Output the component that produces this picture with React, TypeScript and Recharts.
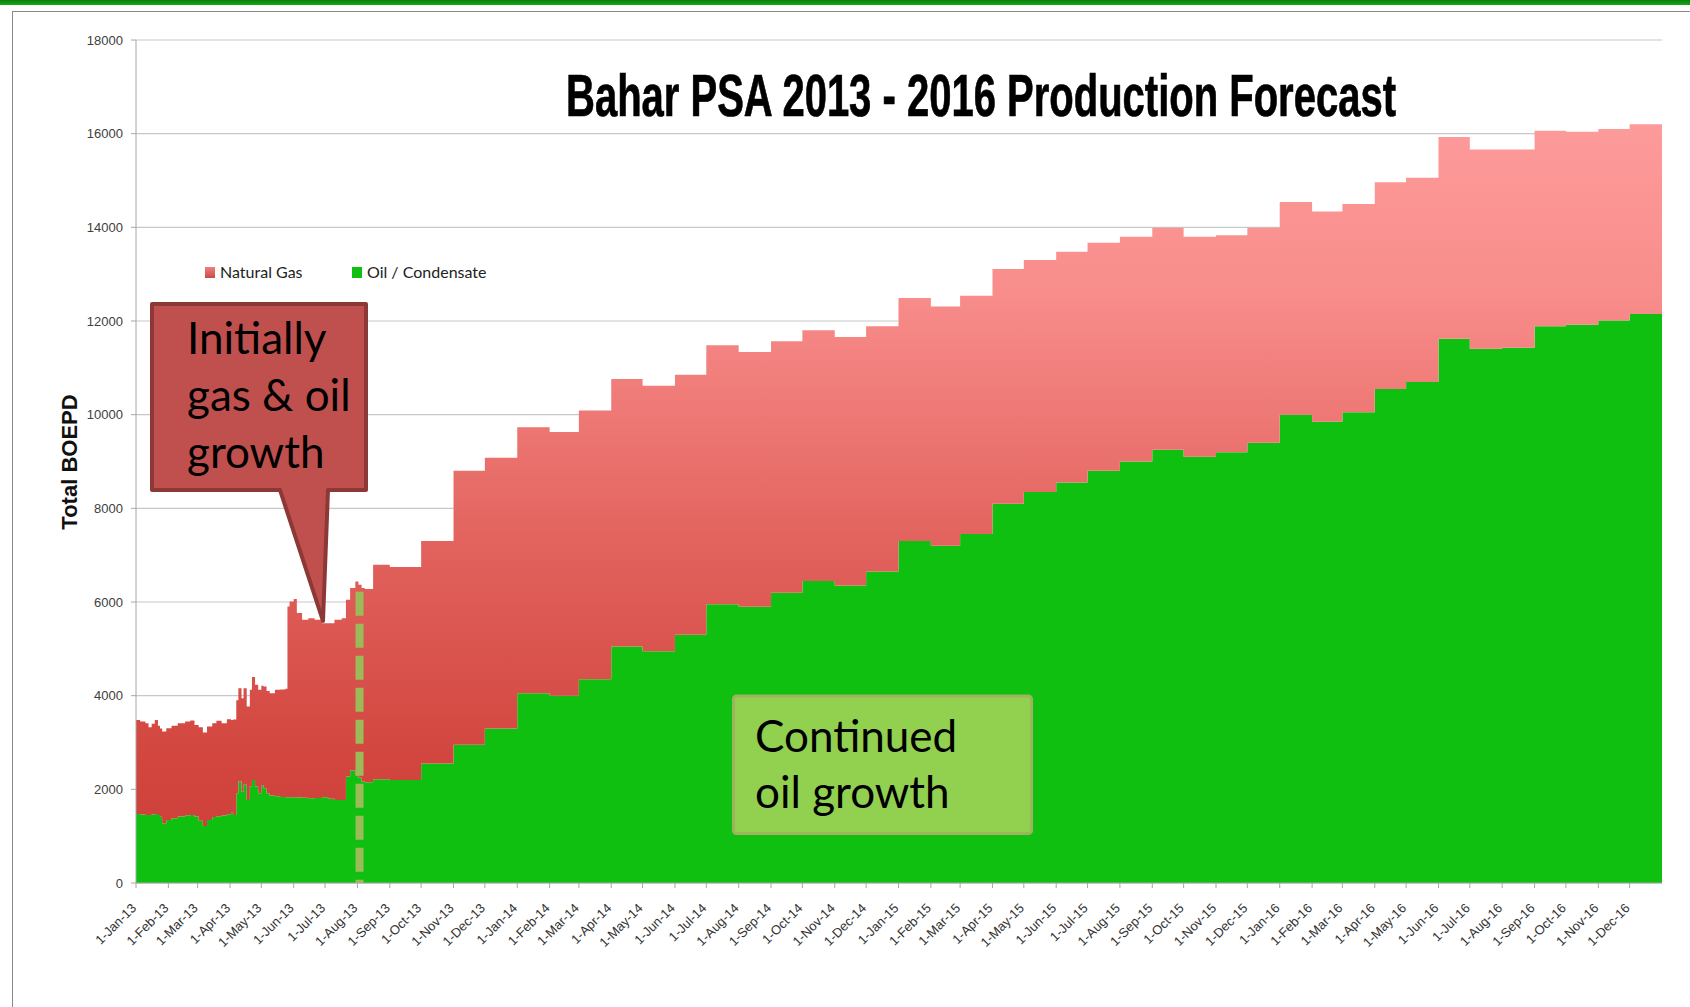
import React from "react";
import { AreaChart, Area, XAxis, YAxis, CartesianGrid, ReferenceLine, Legend } from "recharts";

const W = 1690;
const H = 1007;
const FONT = "'Liberation Sans', Arial, sans-serif";
const CALLOUT_FONT = "Lato, 'Liberation Sans', sans-serif";

// month starts, as days since 1-Jan-13
const monthTickDays = [
  0, 31, 59, 90, 120, 151, 181, 212, 243, 273, 304, 334,
  365, 396, 424, 455, 485, 516, 546, 577, 608, 638, 669, 699,
  730, 761, 789, 820, 850, 881, 911, 942, 973, 1003, 1034, 1064,
  1095, 1126, 1155, 1186, 1216, 1247, 1277, 1308, 1339, 1369, 1400, 1430,
];
const monthLabels = [
  "1-Jan-13", "1-Feb-13", "1-Mar-13", "1-Apr-13", "1-May-13", "1-Jun-13", "1-Jul-13", "1-Aug-13", "1-Sep-13", "1-Oct-13", "1-Nov-13", "1-Dec-13",
  "1-Jan-14", "1-Feb-14", "1-Mar-14", "1-Apr-14", "1-May-14", "1-Jun-14", "1-Jul-14", "1-Aug-14", "1-Sep-14", "1-Oct-14", "1-Nov-14", "1-Dec-14",
  "1-Jan-15", "1-Feb-15", "1-Mar-15", "1-Apr-15", "1-May-15", "1-Jun-15", "1-Jul-15", "1-Aug-15", "1-Sep-15", "1-Oct-15", "1-Nov-15", "1-Dec-15",
  "1-Jan-16", "1-Feb-16", "1-Mar-16", "1-Apr-16", "1-May-16", "1-Jun-16", "1-Jul-16", "1-Aug-16", "1-Sep-16", "1-Oct-16", "1-Nov-16", "1-Dec-16",
];
const yTicks = [0, 2000, 4000, 6000, 8000, 10000, 12000, 14000, 16000, 18000];

// 2013 actuals (daily, read every few days)
const actualDays = [
  0, 4, 9, 12, 15, 18, 21, 23, 25, 29, 34, 40, 47, 52, 56, 60, 64, 68, 73, 77, 82, 87, 91, 93,
  96, 98, 101, 103, 106, 109, 111, 114, 117, 120, 122, 125, 128, 133, 138, 143,
  145, 147, 151, 154, 159, 165, 171, 178, 184, 190, 197, 201, 205, 210, 213, 216, 219, 227,
];
const actualOil = [
  1475, 1460, 1453, 1450, 1460, 1475, 1450, 1417, 1276, 1346, 1383, 1420, 1445, 1450, 1420, 1330, 1218, 1346, 1410, 1425, 1440, 1470, 1500, 1453,
  1917, 2165, 1950, 2100, 1774, 2058, 2201, 2058, 1917, 2094, 2024, 1917, 1870, 1850, 1835, 1831,
  1830, 1831, 1831, 1825, 1820, 1809, 1815, 1831, 1800, 1774, 1774, 2272, 2400, 2300, 2250, 2165, 2150, 2216,
];
const actualGas = [
  2008, 1987, 1959, 1877, 1938, 2008, 1905, 1883, 1958, 1960, 1972, 1992, 2002, 2018, 1956, 1997, 1994, 1994, 2002, 2037, 1972, 2028, 1983, 2037,
  1983, 1995, 1997, 2060, 1994, 2066, 2195, 2173, 2207, 2116, 2171, 2183, 2183, 2274, 2295, 2319,
  4075, 4180, 4231, 3939, 3800, 3846, 3805, 3717, 3748, 3846, 3881, 3775, 3897, 4139, 4118, 4135, 4126, 4580,
];

// monthly forecast, Sep-13 .. Dec-16
const forecastOil = [
  2200, 2550, 2950, 3300,
  4050, 4000, 4350, 5050, 4950, 5300, 5950, 5900, 6200, 6450, 6350, 6650,
  7300, 7200, 7450, 8100, 8350, 8550, 8800, 9000, 9250, 9100, 9200, 9400,
  10000, 9850, 10050, 10550, 10700, 11620, 11410, 11430, 11890, 11920, 12010, 12150,
];
const forecastGas = [
  4550, 4750, 5850, 5780,
  5680, 5630, 5740, 5710, 5670, 5550, 5530, 5440, 5370, 5350, 5310, 5240,
  5190, 5110, 5090, 5010, 4950, 4930, 4870, 4800, 4740, 4700, 4630, 4590,
  4540, 4490, 4450, 4410, 4360, 4310, 4250, 4230, 4170, 4120, 4090, 4050,
];
const END_DAY = 1461; // 1-Jan-17

const forecastDays = monthTickDays.slice(8);
const data = [
  ...actualDays.map((d, i) => ({ day: d, oil: actualOil[i], gas: actualGas[i] })),
  ...forecastDays.map((d, i) => ({ day: d, oil: forecastOil[i], gas: forecastGas[i] })),
  { day: END_DAY, oil: forecastOil[forecastOil.length - 1], gas: forecastGas[forecastGas.length - 1] },
];

const OIL = "#0fc010";

function XTick(props: any) {
  const { x, y, payload } = props;
  const label = monthLabels[monthTickDays.indexOf(payload.value)];
  return (
    <g transform={`translate(${x + 1},${y + 19})`}>
      <text textAnchor="end" transform="rotate(-45)" fontSize={13} fill="#333" fontFamily={FONT}>
        {label}
      </text>
    </g>
  );
}

function LegendBox() {
  return (
    <div style={{ position: "relative", width: 320, height: 24, fontFamily: CALLOUT_FONT, fontSize: 16, color: "#222" }}>
      <span style={{ position: "absolute", left: 0, top: 6, width: 10, height: 11, background: "linear-gradient(#f08080, #c94a46)" }} />
      <span style={{ position: "absolute", left: 15, top: 1, whiteSpace: "nowrap" }}>Natural Gas</span>
      <span style={{ position: "absolute", left: 147, top: 6, width: 10, height: 11, background: OIL }} />
      <span style={{ position: "absolute", left: 162, top: 1, whiteSpace: "nowrap" }}>Oil / Condensate</span>
    </div>
  );
}

export default function App() {
  return (
    <div style={{ position: "absolute", left: 0, top: 0, width: W, height: H, background: "#fff", overflow: "hidden" }}>
      {/* slide frame */}
      <div style={{ position: "absolute", left: 0, top: 0, width: W, height: 5, background: "linear-gradient(#0a7f0a, #17a817)" }} />
      <div style={{ position: "absolute", left: 12, top: 11, width: W, height: H, borderLeft: "1.5px solid #8a8a8a", borderTop: "1.5px solid #8a8a8a" }} />

      <div style={{ position: "absolute", left: 0, top: 0 }}>
        <AreaChart width={W} height={H} data={data} margin={{ top: 40, right: 28, left: 66, bottom: 34 }}>
          <defs>
            <linearGradient id="gasGrad" gradientUnits="userSpaceOnUse" x1="0" y1="40" x2="0" y2="883">
              <stop offset="0%" stopColor="#ffa2a2" />
              <stop offset="30%" stopColor="#f88d8b" />
              <stop offset="60%" stopColor="#e2625d" />
              <stop offset="85%" stopColor="#d2463f" />
              <stop offset="100%" stopColor="#cc3e38" />
            </linearGradient>
          </defs>
          <CartesianGrid vertical={false} stroke="#c8c8c8" strokeWidth={1.2} />
          <XAxis
            dataKey="day"
            type="number"
            domain={[0, END_DAY]}
            ticks={monthTickDays}
            interval={0}
            height={90}
            tick={(p: any) => <XTick {...p} />}
            tickSize={5}
            stroke="#a6a6a6"
            allowDataOverflow
          />
          <YAxis
            domain={[0, 18000]}
            ticks={yTicks}
            width={70}
            tickSize={5}
            tickMargin={8}
            stroke="#a6a6a6"
            tick={{ fontSize: 13, fill: "#404040", fontFamily: FONT }}
          />
          <Area type="stepAfter" dataKey="oil" name="Oil / Condensate" stackId="1" stroke="none" fill={OIL} fillOpacity={1} isAnimationActive={false} />
          <Area type="stepAfter" dataKey="gas" name="Natural Gas" stackId="1" stroke="none" fill="url(#gasGrad)" fillOpacity={1} isAnimationActive={false} />
          <ReferenceLine
            segment={[{ x: 214, y: 6220 }, { x: 214, y: 0 }]}
            stroke="#9bbb59"
            strokeWidth={8}
            strokeDasharray="24 8"
            ifOverflow="visible"
          />
          <Legend
            layout="horizontal"
            verticalAlign="middle"
            align="center"
            wrapperStyle={{ top: 261, left: 205, width: 320, height: 24 }}
            content={() => <LegendBox />}
          />
        </AreaChart>
      </div>

      {/* title, axis title and callouts */}
      <svg width={W} height={H} style={{ position: "absolute", left: 0, top: 0, pointerEvents: "none" }}>
        <g transform="translate(566,116) scale(1,1.22)">
          <text x={0} y={0} textLength={830} lengthAdjust="spacingAndGlyphs" fontFamily="'Liberation Sans Narrow', 'Liberation Sans', sans-serif" fontWeight="bold" fontSize={49} fill="#000" stroke="#000" strokeWidth={0.6}>
            Bahar PSA 2013 - 2016 Production Forecast
          </text>
        </g>
        <text transform="translate(77,462) rotate(-90)" textAnchor="middle" fontFamily={FONT} fontWeight="bold" fontSize={22} fill="#111">
          Total BOEPD
        </text>

        <path d="M152,304 H366 V490 H328 L323,621 L280,490 H152 Z" fill="#c0504d" stroke="#8c3836" strokeWidth={4} strokeLinejoin="round" />
        <g fontFamily={CALLOUT_FONT} fontSize={44} fill="#000">
          <text x={187} y={354}>Initially</text>
          <text x={187} y={411}>gas &amp; oil</text>
          <text x={187} y={468}>growth</text>
        </g>

        <rect x={733.5} y={696} width={298} height={137.5} rx={3} fill="#92d050" stroke="#9fb35c" strokeWidth={3} />
        <g fontFamily={CALLOUT_FONT} fontSize={44} fill="#000">
          <text x={755} y={752}>Continued</text>
          <text x={755} y={808}>oil growth</text>
        </g>
      </svg>
    </div>
  );
}
